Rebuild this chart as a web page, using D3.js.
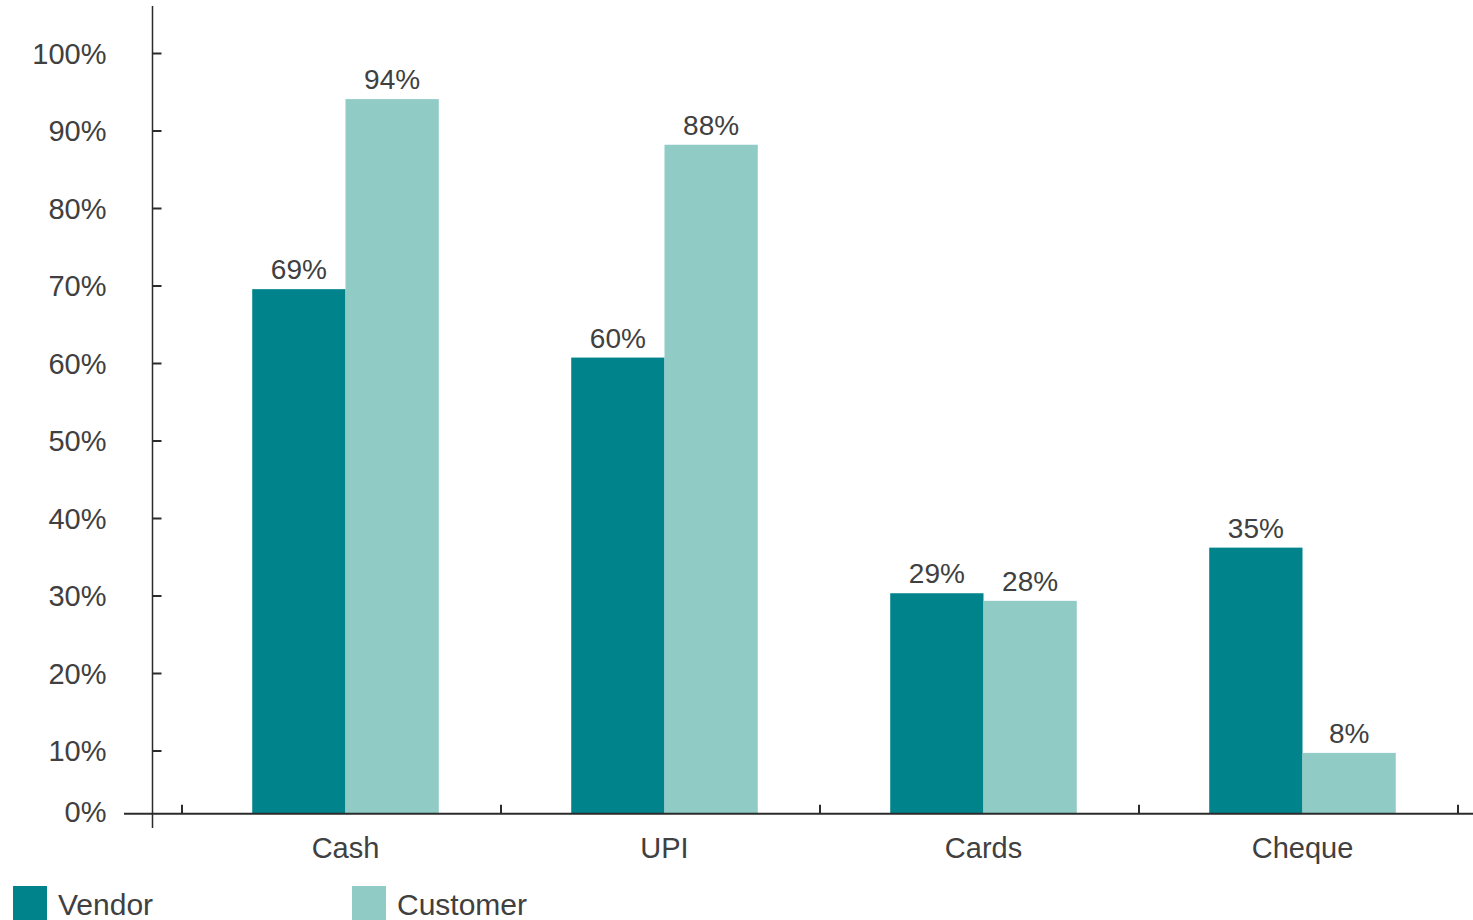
<!DOCTYPE html>
<html>
<head>
<meta charset="utf-8">
<script src="https://cdn.jsdelivr.net/npm/d3@7/dist/d3.min.js"></script>
<style>
  html, body { margin: 0; padding: 0; background: #fff; }
  svg { display: block; }
  text { font-family: "Liberation Sans", Arial, Helvetica, sans-serif; fill: #404040; }
</style>
</head>
<body>
<svg id="chart" width="1473" height="920"></svg>
<script>
// Payment modes accepted by vendors vs. used by customers
const categories = ["Cash", "UPI", "Cards", "Cheque"];
const seriesNames = ["Vendor", "Customer"];
const vendorValues = [69, 60, 29, 35];
const customerValues = [94, 88, 28, 8];
const tickValues = [10, 20, 30, 40, 50, 60, 70, 80, 90, 100];
const tickLabels = ["10%", "20%", "30%", "40%", "50%", "60%", "70%", "80%", "90%", "100%"];
const zeroLabel = "0%";

const colors = { Vendor: "#00838A", Customer: "#90CBC6" };
const axisColor = "#2b2b2b";

const svg = d3.select("#chart");

const baseline = 813.7;
const axisX = 152.5;

// value scale used by the bars
const y = d3.scaleLinear().domain([0, 100]).range([baseline, 53.5]);
// scale used by the left axis ticks
const yAxisScale = d3.scaleLinear().domain([0, 100]).range([828, 53]);

const x0 = d3.scaleBand().domain(categories).range([182, 1458]).paddingInner(0).paddingOuter(0);
const x1 = d3.scaleBand().domain(seriesNames).range([0, x0.bandwidth()]).paddingInner(0).paddingOuter(0.71);

const rows = categories.map((c, i) => ({
  category: c,
  values: [
    { key: "Vendor", value: vendorValues[i] },
    { key: "Customer", value: customerValues[i] }
  ]
}));

// bars
const groups = svg.append("g").selectAll("g")
  .data(rows).join("g")
  .attr("transform", d => `translate(${x0(d.category) + 4},0)`);

groups.selectAll("rect")
  .data(d => d.values).join("rect")
  .attr("x", d => x1(d.key))
  .attr("width", x1.bandwidth())
  .attr("y", d => y(d.value))
  .attr("height", d => baseline - y(d.value))
  .attr("fill", d => colors[d.key]);

groups.selectAll("text.value")
  .data(d => d.values).join("text")
  .attr("class", "value")
  .attr("x", d => x1(d.key) + x1.bandwidth() / 2)
  .attr("y", d => y(d.value) - 10)
  .attr("text-anchor", "middle")
  .style("font-size", "28px")
  .text(d => d.value + "%");

// left axis
const yAxis = d3.axisRight(yAxisScale)
  .tickValues(tickValues)
  .tickSize(9)
  .tickFormat((d, i) => tickLabels[i]);

const gy = svg.append("g").attr("transform", `translate(${axisX},0)`).call(yAxis);
gy.select(".domain").remove();
gy.selectAll(".tick line").attr("stroke", axisColor).attr("stroke-width", 2);
gy.selectAll(".tick text")
  .attr("x", -46)
  .attr("dy", "0.36em")
  .attr("text-anchor", "end")
  .style("font-size", "29px")
  .style("fill", "#404040");

svg.append("line")
  .attr("x1", axisX).attr("x2", axisX)
  .attr("y1", 6).attr("y2", 828)
  .attr("stroke", axisColor).attr("stroke-width", 1.5);

svg.append("text")
  .attr("x", axisX - 46)
  .attr("y", y(0))
  .attr("dy", "0.3em")
  .attr("text-anchor", "end")
  .style("font-size", "29px")
  .text(zeroLabel);

// bottom axis
svg.append("line")
  .attr("x1", 124).attr("x2", 1473)
  .attr("y1", baseline).attr("y2", baseline)
  .attr("stroke", axisColor).attr("stroke-width", 2);

const tickXs = categories.map(c => x0(c)).concat([x0.range()[1]]);
svg.append("g").selectAll("line")
  .data(tickXs).join("line")
  .attr("x1", d => d).attr("x2", d => d)
  .attr("y1", baseline).attr("y2", baseline - 9)
  .attr("stroke", axisColor).attr("stroke-width", 2);

svg.append("g").selectAll("text")
  .data(categories).join("text")
  .attr("x", d => x0(d) + x0.bandwidth() / 2 + 4)
  .attr("y", 858)
  .attr("text-anchor", "middle")
  .style("font-size", "29px")
  .text(d => d);

// legend
const legendX = [13, 352];
const legend = svg.append("g").selectAll("g")
  .data(seriesNames).join("g")
  .attr("transform", (d, i) => `translate(${legendX[i]},886)`);

legend.append("rect")
  .attr("x", 0).attr("y", 0)
  .attr("width", 34).attr("height", 40)
  .attr("fill", d => colors[d]);

legend.append("text")
  .attr("x", 45)
  .attr("y", 29)
  .style("font-size", "30px")
  .text(d => d);
</script>
</body>
</html>
